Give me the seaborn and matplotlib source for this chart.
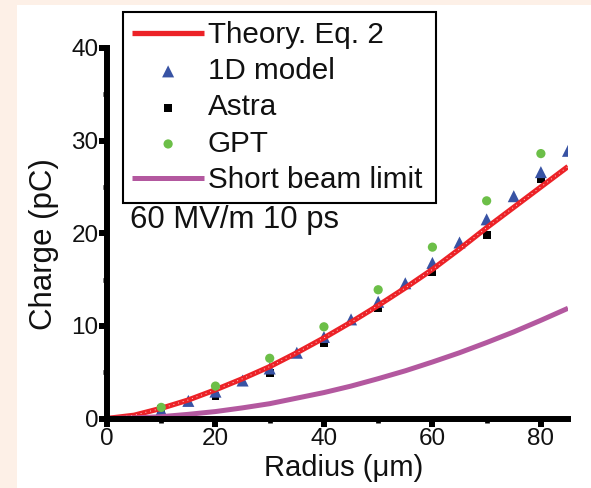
import matplotlib
matplotlib.use("Agg")
import matplotlib.pyplot as plt
from matplotlib.patches import Rectangle
from matplotlib.ticker import MultipleLocator
import seaborn as sns

# Beam radius grid for the analytic curves (µm)
radius_curve = [0, 5, 10, 15, 20, 25, 30, 35, 40, 45, 50, 55, 60, 65, 70, 75, 80, 85]
theory_eq2 = [0, 0.35, 1.1, 2.0, 3.1, 4.3, 5.6, 7.1, 8.7, 10.4, 12.2, 14.1, 16.1,
              18.3, 20.6, 22.8, 25.0, 27.2]
short_beam = [0, 0.06, 0.2, 0.45, 0.75, 1.15, 1.6, 2.2, 2.8, 3.5, 4.3, 5.15, 6.1,
              7.1, 8.2, 9.35, 10.6, 11.9]

# 1D model results
radius_1d = [10, 15, 20, 25, 30, 35, 40, 45, 50, 55, 60, 65, 70, 75, 80, 85]
charge_1d = [0.9, 1.9, 2.9, 4.1, 5.4, 7.1, 8.8, 10.7, 12.6, 14.6, 16.8, 19.0,
             21.5, 24.0, 26.6, 28.9]

# Particle-tracking simulations
radius_sim = [10, 20, 30, 40, 50, 60, 70, 80]
charge_astra = [1.0, 2.4, 4.9, 8.1, 11.9, 15.8, 19.8, 25.8]
charge_gpt = [1.2, 3.5, 6.5, 9.9, 13.9, 18.5, 23.5, 28.6]

sns.set_theme(style="ticks")
plt.rcParams["font.family"] = ["Liberation Sans", "DejaVu Sans"]

SPINE_W = 4.3
RED = "#ec2227"
PURPLE = "#b3589f"
BLUE = "#3853a4"
GREEN = "#6cbf48"

W, H = 591, 488
fig = plt.figure(figsize=(W / 100, H / 100), dpi=100, facecolor="#fdf0e7")
# white panel inside the tinted page margin
fig.patches.append(Rectangle((17 / W, 0), 1 - 17 / W, 1 - 5 / H,
                             transform=fig.transFigure, facecolor="white",
                             edgecolor="none", zorder=-10))

ax = fig.add_axes([107 / W, 1 - 418.5 / H, 461 / W, 370.5 / H])
ax.set_zorder(2)
ax.set_facecolor("none")

sns.lineplot(x=radius_curve, y=theory_eq2, ax=ax, color=RED, lw=3.8,
             label="Theory. Eq. 2", zorder=4, solid_capstyle="butt")
ax.plot(radius_curve, theory_eq2, color="white", lw=0.7, ls=(0, (1, 4)),
        alpha=0.8, zorder=4.1)
sns.scatterplot(x=radius_1d, y=charge_1d, ax=ax, marker="^", s=75, color=BLUE,
                edgecolor="none", label="1D model", zorder=3)
sns.scatterplot(x=radius_sim, y=charge_astra, ax=ax, marker="s", s=32,
                color="black", edgecolor="none", label="Astra", zorder=2)
sns.scatterplot(x=radius_sim, y=charge_gpt, ax=ax, marker="o", s=44,
                color=GREEN, edgecolor="none", label="GPT", zorder=6)
sns.lineplot(x=radius_curve, y=short_beam, ax=ax, color=PURPLE, lw=3.6,
             label="Short beam limit", zorder=5, solid_capstyle="butt")

ax.set_xlim(0, 85)
ax.set_ylim(0, 40)
ax.xaxis.set_major_locator(MultipleLocator(20))
ax.xaxis.set_minor_locator(MultipleLocator(10))
ax.yaxis.set_major_locator(MultipleLocator(10))
ax.yaxis.set_minor_locator(MultipleLocator(5))

for side in ("top", "right"):
    ax.spines[side].set_visible(False)
for side in ("left", "bottom"):
    ax.spines[side].set_linewidth(SPINE_W)
    ax.spines[side].set_color("black")
    ax.spines[side].set_capstyle("projecting")
    ax.spines[side].set_zorder(7)

ax.tick_params(which="major", direction="out", length=5.5, width=4.3,
               color="black", labelsize=17.5, labelcolor="#111111")
ax.tick_params(which="minor", direction="out", length=2.6, width=3.4,
               color="black")
ax.tick_params(axis="y", which="major", pad=0.5)
ax.tick_params(axis="x", which="major", pad=1.0)
for lab in ax.get_xticklabels() + ax.get_yticklabels():
    lab.set_family(["Liberation Sans Narrow", "Liberation Sans", "DejaVu Sans"])

ax.set_xlabel("Radius (μm)", fontsize=21, labelpad=3, color="#111111")
ax.xaxis.label.set_x(0.513)
ax.set_ylabel("Charge (pC)", fontsize=22.5, labelpad=9, color="#111111")
ax.yaxis.label.set_y(0.47)

ax.text(0.05, 21.4 / 40, "60 MV/m 10 ps", transform=ax.transAxes,
        fontsize=22.4, va="center", ha="left", color="#111111")

handles, labels = ax.get_legend_handles_labels()
ax.get_legend().remove()
leg = fig.legend(handles, labels, loc="upper left",
                 bbox_to_anchor=(123 / W, 1 - 12 / H, (436 - 123) / W, 0),
                 bbox_transform=fig.transFigure, mode="expand",
                 fontsize=21.3, frameon=True, fancybox=False, framealpha=1,
                 edgecolor="black", borderpad=0.3, labelspacing=0.28,
                 handlelength=2.45, handletextpad=0.12, borderaxespad=0,
                 markerscale=1.0)
leg.set_zorder(5)
leg.get_frame().set_linewidth(1.5)
for t in leg.get_texts():
    t.set_color("#111111")

fig.savefig("out.png", dpi=100, facecolor=fig.get_facecolor())
